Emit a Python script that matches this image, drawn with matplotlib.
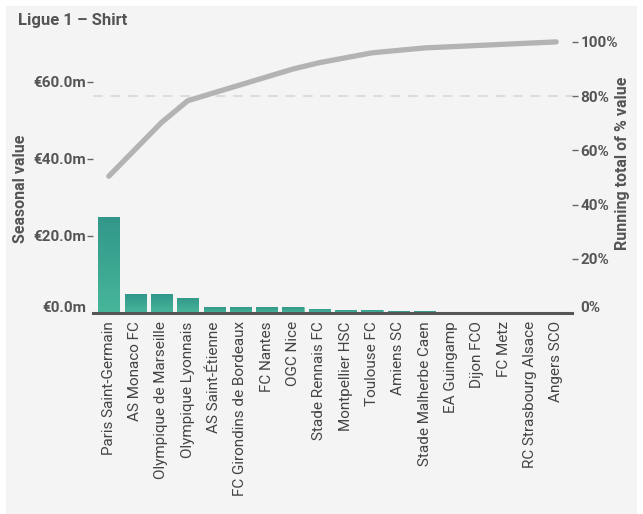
import numpy as np
import matplotlib
matplotlib.use("Agg")
import matplotlib.pyplot as plt
from matplotlib.patches import Rectangle
from matplotlib.colors import LinearSegmentedColormap
import matplotlib.transforms as mtransforms

clubs = ["Paris Saint-Germain", "AS Monaco FC", "Olympique de Marseille",
         "Olympique Lyonnais", "AS Saint-Étienne", "FC Girondins de Bordeaux",
         "FC Nantes", "OGC Nice", "Stade Rennais FC", "Montpellier HSC",
         "Toulouse FC", "Amiens SC", "Stade Malherbe Caen", "EA Guingamp",
         "Dijon FCO", "FC Metz", "RC Strasbourg Alsace", "Angers SCO"]
values_m = [25.0, 4.9, 4.9, 4.0, 1.45, 1.45, 1.45, 1.45, 1.15, 0.9,
            0.9, 0.45, 0.45, 0.22, 0.22, 0.22, 0.22, 0.22]
left_ticks = [0, 20, 40, 60]
left_ticklabels = ["€0.0m", "€20.0m", "€40.0m", "€60.0m"]
right_ticks = [0, 20, 40, 60, 80, 100]
right_ticklabels = ["0%", "20%", "40%", "60%", "80%", "100%"]

running_pct = np.cumsum(values_m) / np.sum(values_m) * 100

plt.rcParams['font.family'] = ['Roboto', 'DejaVu Sans']
W, H = 643, 514
fig = plt.figure(figsize=(W / 100, H / 100), dpi=100)
fig.patch.set_facecolor('white')
fig.patches.append(Rectangle((6 / W, 0), (637 - 6) / W, (514 - 6) / H,
                             transform=fig.transFigure, facecolor='#f4f4f4',
                             edgecolor='none', zorder=-10))

ax_l, ax_r_px, ax_b, ax_t = 93, 572, 313, 40
ax = fig.add_axes([ax_l / W, (H - ax_b) / H, (ax_r_px - ax_l) / W, (ax_b - ax_t) / H])
ax.set_facecolor('none')
ax2 = ax.twinx()
ax2.set_facecolor('none')

x = np.arange(len(clubs))

cmap = LinearSegmentedColormap.from_list('g', ['#47b69a', '#32978a'])
grad = np.linspace(0, 1, 64).reshape(-1, 1)
bars = ax.bar(x, values_m, width=0.8, color='#3da88f', edgecolor='#6cc8b0',
              linewidth=0.6, zorder=2)
for b in bars:
    x0, y0 = b.get_x(), b.get_y()
    w, h = b.get_width(), b.get_height()
    im = ax.imshow(grad, extent=[x0, x0 + w, y0, y0 + h], origin='lower',
                   cmap=cmap, aspect='auto', zorder=2.5)
    im.set_clip_path(b)
ax.set_xlim(-0.6, len(clubs) - 0.4)
ax.set_ylim(0, 70.9)
ax2.set_ylim(0, 100.7)

# baseline
ax.axhline(0, color='#555555', linewidth=2.2, zorder=5, clip_on=False)

ax2.axhline(80, color='#dcdcdc', linewidth=1.4, linestyle=(0, (5, 4)), zorder=1)
ax2.plot(x, running_pct, color='#b3b3b3', linewidth=3.8, solid_capstyle='round',
         solid_joinstyle='round', zorder=6, clip_on=False)

for a in (ax, ax2):
    for s in a.spines.values():
        s.set_visible(False)

tick_color = '#555555'
ax.set_yticks(left_ticks)
ax.set_yticklabels(left_ticklabels, fontsize=11, fontweight='bold', color=tick_color)
ax.tick_params(axis='y', length=4, width=1, color='#666666', pad=1)
ax2.set_yticks(right_ticks)
ax2.set_yticklabels(right_ticklabels, fontsize=11, fontweight='bold', color=tick_color)
ax2.tick_params(axis='y', length=4, width=1, color='#666666', pad=2)

# shift zero labels up slightly
off = mtransforms.ScaledTranslation(0, 7 / 100, fig.dpi_scale_trans)
for lab in (ax.get_yticklabels()[0], ax2.get_yticklabels()[0]):
    lab.set_transform(lab.get_transform() + off)
ax2.yaxis.get_major_ticks()[0].tick2line.set_visible(False)
ax.yaxis.get_major_ticks()[0].tick1line.set_visible(False)

ax.set_xticks(x)
ax.set_xticklabels(clubs, rotation=90, fontsize=11, color='#444444')
ax.tick_params(axis='x', length=0, pad=6)

fig.text(18 / W, 1 - 20 / H, "Ligue 1 – Shirt", fontsize=12, fontweight='bold',
         color='#555555', ha='left', va='center')
fig.text(21 / W, 1 - 189 / H, "Seasonal value", fontsize=11.5, fontweight='bold',
         color='#555555', rotation=90, ha='center', va='center')
fig.text(622 / W, 1 - 163 / H, "Running total of % value", fontsize=11.5,
         fontweight='bold', color='#555555', rotation=90, ha='center', va='center')

fig.savefig('out.png', dpi=100, facecolor=fig.get_facecolor())
